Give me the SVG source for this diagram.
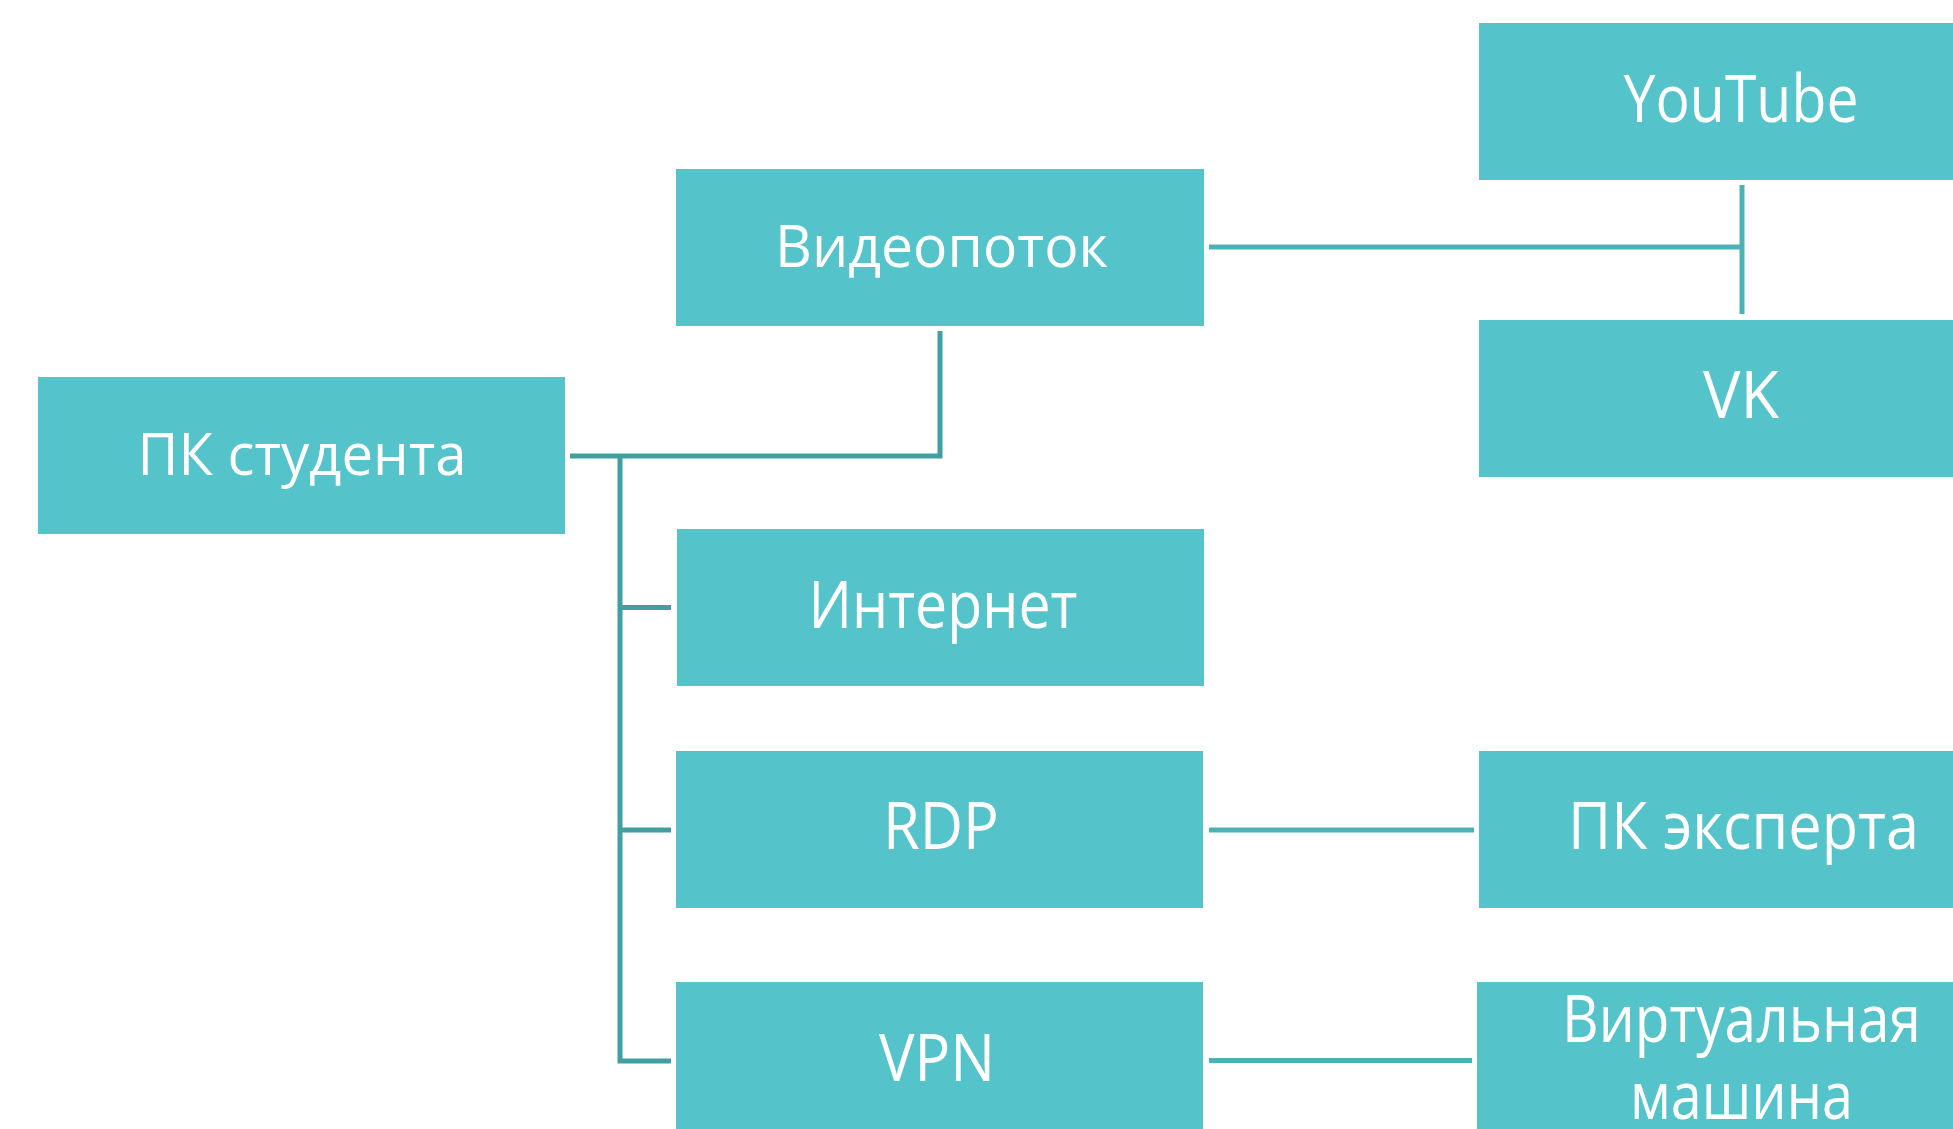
<svg xmlns="http://www.w3.org/2000/svg" width="1953" height="1129" viewBox="0 0 1953 1129">
<style>
.box{fill:#54C3CA}
.t{font-family:"Open Sans","Noto Sans","Liberation Sans",sans-serif;fill:#FFFFFF;text-anchor:middle}
.s{font-size:59px}
.l{font-size:65px}
.c1{fill:none;stroke:#419EA1;stroke-width:5}
.c2{fill:none;stroke:#4AB1B5;stroke-width:5}
</style>
<rect width="1953" height="1129" fill="#FFFFFF"/>
<g id="connectors">
<polyline class="c1" points="570,456 940,456 940,331"/>
<polyline class="c1" points="620,456 620,1061 671,1061"/>
<line class="c1" x1="620" y1="607.5" x2="671" y2="607.5"/>
<line class="c1" x1="620" y1="830" x2="671" y2="830"/>
<line class="c2" x1="1209" y1="247" x2="1742" y2="247"/>
<line class="c2" x1="1742" y1="185" x2="1742" y2="314"/>
<line class="c2" x1="1209" y1="830" x2="1474" y2="830"/>
<line class="c2" x1="1209" y1="1060.5" x2="1472" y2="1060.5"/>
</g>
<g id="pc-student">
<rect class="box" x="38" y="377" width="527" height="157"/>
<text class="t s" x="302" y="475" textLength="329" lengthAdjust="spacingAndGlyphs">ПК студента</text>
</g>
<g id="videostream">
<rect class="box" x="676" y="169" width="528" height="157"/>
<text class="t s" x="941.5" y="267" textLength="333" lengthAdjust="spacingAndGlyphs">Видеопоток</text>
</g>
<g id="internet">
<rect class="box" x="677" y="529" width="527" height="157"/>
<text class="t l" x="943" y="628" textLength="269" lengthAdjust="spacingAndGlyphs">Интернет</text>
</g>
<g id="rdp">
<rect class="box" x="676" y="751" width="527" height="157"/>
<text class="t l" x="941" y="849" textLength="116" lengthAdjust="spacingAndGlyphs">RDP</text>
</g>
<g id="vpn">
<rect class="box" x="676" y="982" width="527" height="157"/>
<text class="t l" x="937" y="1081" textLength="116" lengthAdjust="spacingAndGlyphs">VPN</text>
</g>
<g id="youtube">
<rect class="box" x="1479" y="23" width="527" height="157"/>
<text class="t l" x="1741" y="121.7" textLength="235" lengthAdjust="spacingAndGlyphs">YouTube</text>
</g>
<g id="vk">
<rect class="box" x="1479" y="320" width="527" height="157"/>
<text class="t l" x="1741" y="418" textLength="76" lengthAdjust="spacingAndGlyphs">VK</text>
</g>
<g id="pc-expert">
<rect class="box" x="1479" y="751" width="527" height="157"/>
<text class="t l" x="1743.5" y="849" textLength="351" lengthAdjust="spacingAndGlyphs">ПК эксперта</text>
</g>
<g id="virtual-machine">
<rect class="box" x="1477" y="982" width="527" height="157"/>
<text class="t l" x="1741.5" y="1041.7" textLength="359" lengthAdjust="spacingAndGlyphs">Виртуальная</text>
<text class="t l" x="1741.5" y="1119" textLength="223" lengthAdjust="spacingAndGlyphs">машина</text>
</g>
</svg>
